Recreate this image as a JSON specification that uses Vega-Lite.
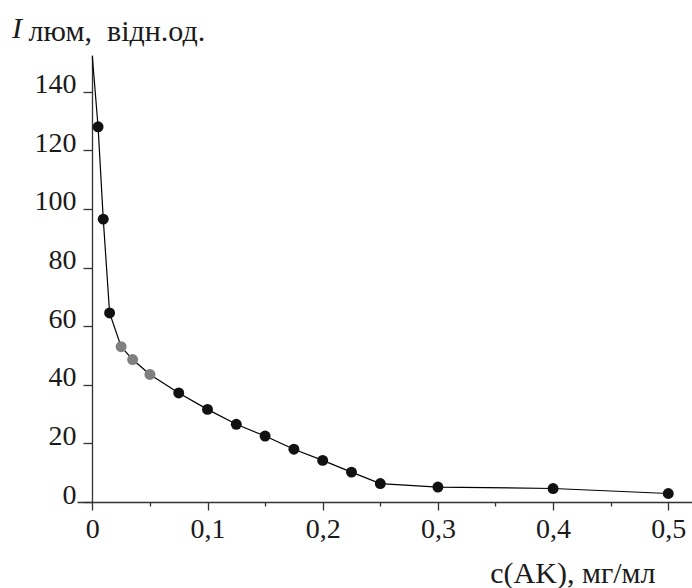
{
  "$schema": "https://vega.github.io/schema/vega-lite/v6.json",
  "autosize": "none",
  "width": 615,
  "height": 447,
  "padding": {"left": 77, "top": 55, "right": 0, "bottom": 86},
  "background": "white",
  "title": {"text": "I", "font": "Liberation Serif", "fontStyle": "italic", "fontWeight": "normal", "fontSize": 30, "color": "#1a1a1a", "anchor": "start", "frame": "group", "baseline": "alphabetic", "offset": 4, "dx": -65, "dy": 56},
  "config": {
    "view": {"stroke": null},
    "font": "Liberation Serif",
    "axis": {"grid": false, "domainColor": "#333", "tickColor": "#333", "labelColor": "#1a1a1a", "titleColor": "#1a1a1a", "labelFont": "Liberation Serif", "titleFont": "Liberation Serif", "titleFontWeight": "normal", "labelFontSize": 28, "titleFontSize": 30, "domainWidth": 1.3, "tickWidth": 1.3}
  },
  "data": {
    "values": [
      {"c": 0.0, "I": 152, "marker": "none"},
      {"c": 0.005, "I": 128, "marker": "black"},
      {"c": 0.0095, "I": 96.5, "marker": "black"},
      {"c": 0.015, "I": 64.5, "marker": "black"},
      {"c": 0.025, "I": 53, "marker": "gray"},
      {"c": 0.035, "I": 48.6, "marker": "gray"},
      {"c": 0.05, "I": 43.5, "marker": "gray"},
      {"c": 0.075, "I": 37.2, "marker": "black"},
      {"c": 0.1, "I": 31.6, "marker": "black"},
      {"c": 0.125, "I": 26.5, "marker": "black"},
      {"c": 0.15, "I": 22.5, "marker": "black"},
      {"c": 0.175, "I": 18.0, "marker": "black"},
      {"c": 0.2, "I": 14.2, "marker": "black"},
      {"c": 0.225, "I": 10.2, "marker": "black"},
      {"c": 0.25, "I": 6.3, "marker": "black"},
      {"c": 0.3, "I": 5.1, "marker": "black"},
      {"c": 0.4, "I": 4.6, "marker": "black"},
      {"c": 0.5, "I": 2.9, "marker": "black"}
    ]
  },
  "encoding": {
    "x": {
      "field": "c", "type": "quantitative",
      "scale": {"domain": [-0.0133, 0.5206], "nice": false, "zero": false},
      "axis": {
        "values": [0, 0.05, 0.1, 0.15, 0.2, 0.25, 0.3, 0.35, 0.4, 0.45, 0.5],
        "labelExpr": "round(datum.value*20) % 2 == 0 ? (datum.value == 0 ? '0' : replace(format(datum.value, '.1f'), '.', ',')) : ''",
        "tickSize": {"condition": {"test": "round(datum.value*20) % 2 == 1", "value": 4}, "value": 8},
        "labelPadding": 5,
        "title": "c(AK), мг/мл",
        "titleAnchor": "start",
        "titleAlign": "right",
        "titleBaseline": "alphabetic",
        "titleX": 578,
        "titleY": 80
      }
    },
    "y": {
      "field": "I", "type": "quantitative",
      "scale": {"domain": [0, 152.5], "nice": false},
      "axis": {
        "values": [0, 20, 40, 60, 80, 100, 120, 140],
        "offset": -15,
        "tickSize": 9,
        "labelPadding": 7,
        "labelOffset": -7,
        "title": "люм,\u00a0\u00a0відн.од.",
        "titleAngle": 0,
        "titleAlign": "left",
        "titleBaseline": "alphabetic",
        "titleX": -64,
        "titleY": -15
      }
    }
  },
  "layer": [
    {"mark": {"type": "line", "color": "black", "strokeWidth": 1.2, "clip": true}},
    {
      "transform": [{"filter": "datum.marker != 'none'"}],
      "mark": {"type": "point", "filled": true, "opacity": 1, "size": 120, "shape": "circle"},
      "encoding": {
        "color": {"field": "marker", "type": "nominal", "scale": {"domain": ["black", "gray"], "range": ["#111111", "#808080"]}, "legend": null}
      }
    }
  ]
}
